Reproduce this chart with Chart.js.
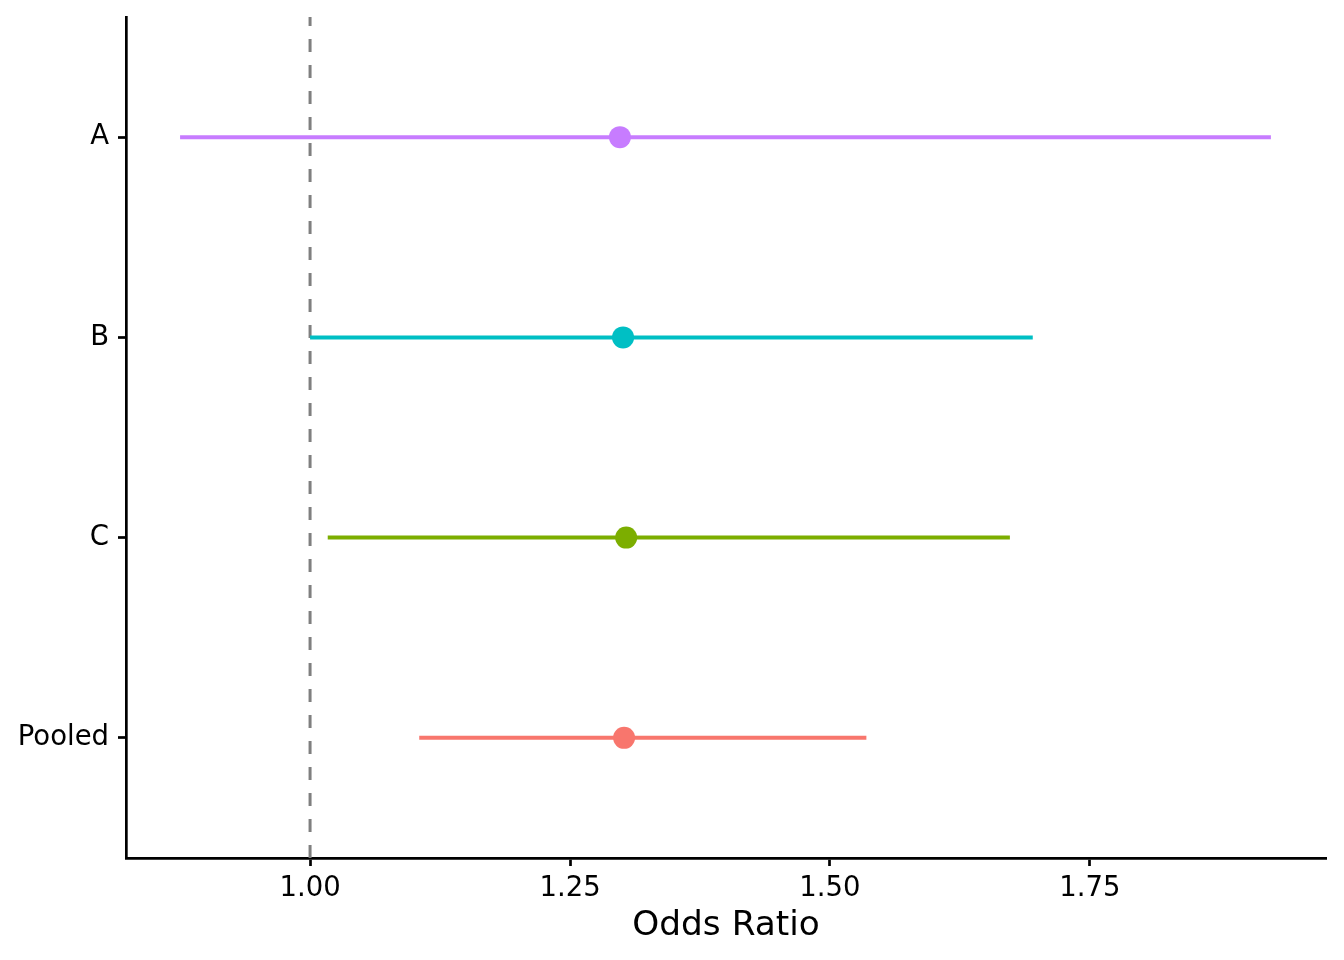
<!DOCTYPE html>
<html>
<head>
<meta charset="utf-8">
<script src="https://cdn.jsdelivr.net/npm/chart.js@4.4.1/dist/chart.umd.min.js"></script>
<style>
  html, body { margin: 0; padding: 0; background: #ffffff; }
  #wrap { width: 1344px; height: 960px; }
</style>
</head>
<body>
<div id="wrap"><canvas id="c" width="1344" height="960"></canvas></div>
<script>
// ---- data ----
const studies = ["Pooled", "C", "B", "A"];        // bottom to top
const studyPos = [1, 2, 3, 4];
const oddsRatio = [1.302, 1.304, 1.301, 1.298];
const ciLower = [1.105, 1.017, 1.000, 0.875];
const ciUpper = [1.535, 1.673, 1.695, 1.924];
const studyColors = ["#F8766D", "#7CAE00", "#00BFC4", "#C77CFF"];
const xTicks = [1.00, 1.25, 1.50, 1.75];
const refValue = 1.00;
const xMin = 0.823, xMax = 1.977;
const yMin = 0.4, yMax = 4.6;

const FONT = "'DejaVu Sans', sans-serif";

const datasets = [];
// reference dashed line (drawn bottom to top)
datasets.push({
  data: [{x: refValue, y: yMin}, {x: refValue, y: yMax}],
  showLine: true,
  borderColor: "#7f7f7f",
  borderWidth: 3,
  borderDash: [13, 13],
  pointRadius: 0,
  order: 3
});
// CI lines
studies.forEach((s, i) => {
  datasets.push({
    label: s + " CI",
    data: [{x: ciLower[i], y: studyPos[i]}, {x: ciUpper[i], y: studyPos[i]}],
    showLine: true,
    borderColor: studyColors[i],
    borderWidth: 4,
    pointRadius: 0,
    order: 2
  });
});
// point estimates
datasets.push({
  label: "OR",
  data: studies.map((s, i) => ({x: oddsRatio[i], y: studyPos[i]})),
  showLine: false,
  pointRadius: 11,
  pointBorderWidth: 0,
  pointBackgroundColor: studyColors,
  pointBorderColor: studyColors,
  order: 1
});

new Chart(document.getElementById("c"), {
  type: "scatter",
  data: { datasets },
  options: {
    responsive: false,
    animation: false,
    devicePixelRatio: 1,
    layout: { padding: { top: 17, right: 18, left: 0, bottom: 0 } },
    plugins: { legend: { display: false }, tooltip: { enabled: false } },
    scales: {
      x: {
        type: "linear",
        min: xMin,
        max: xMax,
        afterBuildTicks: (scale) => { scale.ticks = xTicks.map(v => ({value: v})); },
        afterFit: (scale) => { scale.height = 102; },
        border: { display: true, color: "#000000", width: 2.7 },
        grid: { drawOnChartArea: false, drawTicks: true, tickLength: 8, tickColor: "#000000", tickWidth: 2.7 },
        ticks: {
          color: "#000000",
          font: { family: FONT, size: 27.5 },
          padding: 6,
          maxRotation: 0,
          callback: (v) => Number(v).toFixed(2)
        },
        title: {
          display: true,
          text: "Odds Ratio",
          color: "#000000",
          font: { family: FONT, size: 34.3, lineHeight: 1.2 },
          padding: { top: 0, bottom: 13 }
        }
      },
      y: {
        type: "linear",
        min: yMin,
        max: yMax,
        afterBuildTicks: (scale) => { scale.ticks = studyPos.map(v => ({value: v})); },
        afterFit: (scale) => { scale.width = 126; },
        border: { display: true, color: "#000000", width: 2.7 },
        grid: { drawOnChartArea: false, drawTicks: true, tickLength: 8, tickColor: "#000000", tickWidth: 2.7 },
        ticks: {
          color: "#000000",
          font: { family: FONT, size: 27.5, lineHeight: 0.5 },
          padding: 9,
          callback: (v) => { const k = studyPos.indexOf(v); return k >= 0 ? studies[k] : ""; }
        }
      }
    }
  }
});
</script>
</body>
</html>
